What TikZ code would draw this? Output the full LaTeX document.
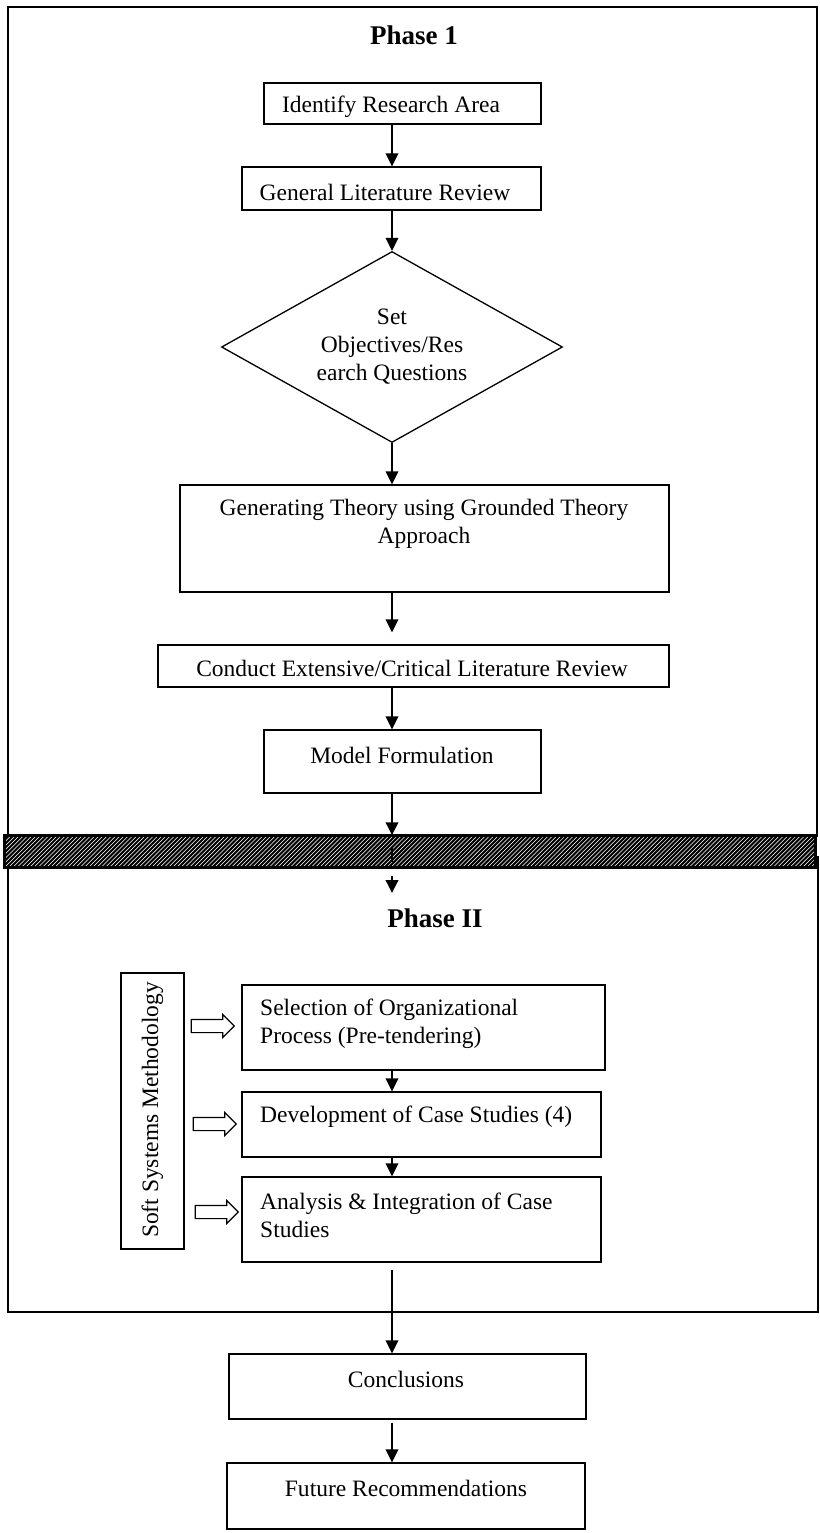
\documentclass[tikz,border=0pt]{standalone}
\usepackage{fontspec}
\setmainfont{Liberation Serif}
\usetikzlibrary{arrows.meta,shapes.geometric,shapes.arrows,fit,calc}

\begin{document}
\begin{tikzpicture}[x=1bp,y=-1bp,
  frame/.style={draw, line width=1.4bp, inner sep=0pt},
  box/.style={draw, line width=1.3bp, inner sep=0pt},
  txt/.style={inner sep=0pt, font=\fontsize{23.5bp}{28bp}\selectfont},
  heading/.style={inner sep=0pt, font=\fontsize{27bp}{32bp}\selectfont\bfseries},
  flow/.style={line width=1.9bp, -{Triangle[length=13bp,width=12.5bp]}},
  hollow/.style={single arrow, draw, fill=white, line width=1.2bp,
    minimum height=43bp, minimum width=22bp, single arrow head extend=5bp,
    inner sep=6bp}
]
\useasboundingbox (0,0) rectangle (819,1533);

% phase frames
\node[frame, fit={(8,7)(817,836)}] (phase1) {};
\node[frame, fit={(8,857)(818,1312)}] (phase2) {};

% trunk line of the flow
\coordinate (tr) at (392,0);

% ---- Phase 1 ----
\node[heading] (t1) at (414,35) {Phase 1};

\node[box, fit={(264,83)(541,124)}] (identify) {};
\node[txt] (identify-t) at (391,107) {Identify Research Area};

\node[box, fit={(242,167)(541,210)}] (general) {};
\node[txt] (general-t) at (385,192) {General Literature Review};

\node[txt, diamond, draw, line width=1.3bp, minimum width=341bp,
  minimum height=191bp, aspect=1.785, align=center] (objectives)
  at (392,347) {Set\\Objectives/Res\\earch Questions};

\node[box, fit={(180,485)(669,592)}] (generate) {};
\node[txt, align=center] (generate-t) at (424,524)
  {Generating Theory using Grounded Theory\\Approach};

\node[box, fit={(158,645)(669,687)}] (conduct) {};
\node[txt] (conduct-t) at (412,668) {Conduct Extensive/Critical Literature Review};

\node[box, fit={(264,730)(541,793)}] (model) {};
\node[txt] (model-t) at (402,755) {Model Formulation};

% hatched separator band
\node[draw, fill=white, line width=1.5bp, inner sep=0pt, fit={(5,836)(815,867)}] (band) {};
\begin{scope}
  \clip (band.north west) rectangle (band.south east);
  \foreach \i in {0,...,205}
    \draw[line width=2.1bp] ({\i*4.2-35},867) -- ++(31,-31);
\end{scope}
\draw[line width=1.6bp] (band.north west) rectangle (band.south east);

% Phase 1 connectors
\draw[flow] (identify.south -| tr) -- (general.north -| tr);
\draw[flow] (general.south -| tr) -- (objectives.north);
\draw[flow] (objectives.south) -- (generate.north -| tr);
\draw[flow] (generate.south -| tr) -- ($(conduct.north -| tr)+(0,-12)$);
\draw[flow] (conduct.south -| tr) -- (model.north -| tr);
\draw[flow] (model.south -| tr) -- (band.north -| tr);
\draw[line width=2.8bp] ($(band.center -| tr)+(0,-4)$) -- ++(0,14);
\coordinate (p2in) at (392,893);
\draw[flow] ($(band.south -| tr)+(0,8)$) -- (p2in);

% ---- Phase II ----
\node[heading] (t2) at (435,918) {Phase II};

\node[box, fit={(121,973)(184,1249)}] (ssm) {};
\node[txt, rotate=90] (ssm-t) at (152.5,1110) {Soft Systems Methodology};

\node[box, fit={(242,985)(605,1070)}] (select) {};
\node[txt, align=left, anchor=west] (select-t) at (260,1024)
  {Selection of Organizational\\Process (Pre-tendering)};

\node[box, fit={(242,1092)(601,1157)}] (develop) {};
\node[txt, anchor=west] (develop-t) at (260,1117) {Development of Case Studies (4)};

\node[box, fit={(242,1177)(601,1262)}] (analysis) {};
\node[txt, align=left, anchor=west] (analysis-t) at (260,1215)
  {Analysis \& Integration of Case\\Studies};

% methodology feeding each step
\node[hollow] (h1) at (209.5,1026) {};
\node[hollow] (h2) at (211.5,1124) {};
\node[hollow] (h3) at (213.5,1212) {};

\draw[flow] (select.south -| tr) -- (develop.north -| tr);
\draw[flow] (develop.south -| tr) -- (analysis.north -| tr);

% ---- outcomes ----
\node[box, fit={(229,1354)(586,1419)}] (concl) {};
\node[txt] (concl-t) at (406,1379) {Conclusions};

\node[box, fit={(227,1463)(585,1529)}] (future) {};
\node[txt] (future-t) at (406,1488) {Future Recommendations};

\draw[flow] ($(analysis.south -| tr)+(0,7)$) -- (concl.north -| tr);
\draw[flow] ($(concl.south -| tr)+(0,3)$) -- (future.north -| tr);
\end{tikzpicture}
\end{document}
